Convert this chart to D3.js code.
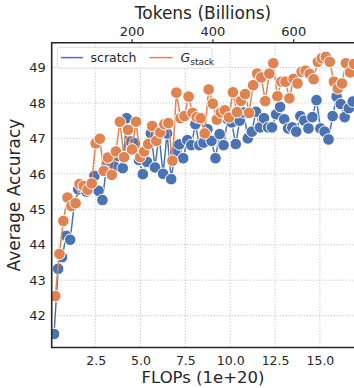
<!DOCTYPE html>
<html>
<head>
<meta charset="utf-8">
<script src="https://cdn.jsdelivr.net/npm/d3@7"></script>
<style>
  html, body { margin: 0; padding: 0; background: #fff; }
  svg { display: block; font-family: "DejaVu Sans", sans-serif; }
</style>
</head>
<body>
<div id="chart"></div>
<script>
// FLOPs (1e20) for every checkpoint
const flopsScratch = [0.18, 0.41, 0.63, 0.86, 1.08, 1.31, 1.53, 1.76, 1.98, 2.21, 2.43, 2.66, 2.88, 3.11, 3.33,
  3.56, 3.78, 4.01, 4.23, 4.46, 4.68, 4.91, 5.13, 5.36, 5.58, 5.81, 6.03, 6.26, 6.48, 6.71, 6.93, 7.16, 7.38,
  7.61, 7.83, 8.06, 8.28, 8.51, 8.73, 8.96, 9.18, 9.41, 9.63, 9.86, 10.08, 10.31, 10.53, 10.76, 10.98, 11.21,
  11.43, 11.66, 11.88, 12.11, 12.33, 12.56, 12.78, 13.01, 13.23, 13.46, 13.68, 13.91, 14.13, 14.36, 14.58,
  14.81, 15.03, 15.26, 15.48, 15.71, 15.93, 16.16, 16.38, 16.61, 16.83];
const flopsStack = [0.25, 0.48, 0.70, 0.93, 1.15, 1.38, 1.60, 1.83, 2.05, 2.28, 2.50, 2.73, 2.95, 3.18, 3.40,
  3.63, 3.85, 4.08, 4.30, 4.53, 4.75, 4.98, 5.20, 5.43, 5.65, 5.88, 6.10, 6.33, 6.55, 6.78, 7.00, 7.23, 7.45,
  7.68, 7.90, 8.13, 8.35, 8.58, 8.80, 9.03, 9.25, 9.48, 9.70, 9.93, 10.15, 10.38, 10.60, 10.83, 11.05, 11.28,
  11.50, 11.73, 11.95, 12.18, 12.40, 12.63, 12.85, 13.08, 13.30, 13.53, 13.75, 13.98, 14.20, 14.43, 14.65,
  14.88, 15.10, 15.33, 15.55, 15.78, 16.00, 16.23, 16.45, 16.68, 16.90];

// average accuracy
const accScratch = [41.48, 43.32, 43.65, 44.25, 44.14, 45.15, 45.56, 45.62, 45.50, 45.70, 45.94, 45.52, 45.26,
  46.25, 46.35, 46.20, 46.50, 46.16, 47.57, 46.91, 46.86, 46.39, 45.99, 46.34, 47.14, 46.18, 47.10, 46.00,
  47.14, 45.85, 46.61, 46.83, 46.44, 46.95, 46.81, 47.40, 46.81, 46.88, 47.26, 46.93, 46.44, 47.12, 46.81,
  47.54, 47.45, 46.84, 47.50, 47.73, 47.00, 47.19, 47.75, 47.31, 47.57, 47.31, 47.31, 47.68, 47.89, 47.54,
  47.28, 47.31, 47.19, 47.63, 47.50, 47.28, 47.60, 48.08, 47.28, 47.19, 46.97, 47.63, 48.18, 47.97, 47.60,
  47.85, 48.04];
const accStack = [42.55, 43.74, 44.67, 45.33, 45.09, 45.17, 45.71, 45.66, 45.55, 45.73, 46.86, 46.99, 46.08,
  46.46, 45.97, 46.63, 47.47, 46.47, 47.24, 46.69, 47.47, 46.47, 46.63, 46.84, 47.35, 46.93, 47.17, 47.40,
  47.43, 46.37, 48.29, 47.57, 47.63, 48.18, 47.72, 47.60, 47.57, 47.14, 48.38, 47.98, 47.53, 47.73, 47.79,
  47.59, 48.30, 47.74, 48.06, 48.25, 47.72, 48.50, 48.83, 48.72, 48.05, 48.83, 49.12, 48.19, 48.60, 48.60,
  48.13, 48.68, 48.55, 48.88, 48.91, 48.82, 48.67, 49.16, 49.26, 49.30, 49.16, 48.60, 48.41, 48.55, 49.12,
  48.86, 49.10];

const xTicks = [2.5, 5.0, 7.5, 10.0, 12.5, 15.0];
const yTicks = [42, 43, 44, 45, 46, 47, 48, 49];
const tokenTicks = [200, 400, 600];
const tokensPerFlop = 44.4; // billions of tokens per 1e20 FLOPs

const width = 354, height = 388;
const mLeft = 51.7, mTop = 42.7, mBottom = 347.5, mRight = 354;

const blue = '#4C72B0', orange = '#DD8452';

const svg = d3.select('#chart').append('svg')
  .attr('width', width)
  .attr('height', height);

const x = d3.scaleLinear().domain([0.05, 16.9]).range([mLeft, mRight]);
const y = d3.scaleLinear().domain([41.10, 49.70]).range([mBottom, mTop]);
const xTok = d3.scaleLinear()
  .domain([0.05 * tokensPerFlop, 16.9 * tokensPerFlop])
  .range([mLeft, mRight]);

svg.append('defs').append('clipPath').attr('id', 'plot-clip')
  .append('rect')
  .attr('x', mLeft).attr('y', mTop)
  .attr('width', mRight - mLeft).attr('height', mBottom - mTop);

// grid
const grid = svg.append('g').attr('stroke', '#c4c4c4').attr('stroke-width', 1)
  .attr('stroke-dasharray', '1.2,1.8');
grid.selectAll('.gx').data(xTicks).enter().append('line')
  .attr('x1', d => x(d)).attr('x2', d => x(d))
  .attr('y1', mTop).attr('y2', mBottom);
grid.selectAll('.gy').data(yTicks).enter().append('line')
  .attr('x1', mLeft).attr('x2', mRight)
  .attr('y1', d => y(d)).attr('y2', d => y(d));

// series
const plot = svg.append('g').attr('clip-path', 'url(#plot-clip)');

function drawSeries(xs, ys, color) {
  const pts = xs.map((v, i) => [v, ys[i]]);
  plot.append('path')
    .datum(pts)
    .attr('fill', 'none')
    .attr('stroke', color)
    .attr('stroke-width', 1.5)
    .attr('d', d3.line().x(d => x(d[0])).y(d => y(d[1])));
  plot.append('g').selectAll('circle')
    .data(pts).enter().append('circle')
    .attr('cx', d => x(d[0]))
    .attr('cy', d => y(d[1]))
    .attr('r', 5.8)
    .attr('fill', color)
    .attr('stroke', '#fff')
    .attr('stroke-width', 1);
}
drawSeries(flopsScratch, accScratch, blue);
drawSeries(flopsStack, accStack, orange);

// spines
const spines = svg.append('g').attr('stroke', '#262626').attr('stroke-width', 1.6);
spines.append('line').attr('x1', mLeft).attr('x2', mLeft).attr('y1', mTop - 0.8).attr('y2', mBottom + 0.8);
spines.append('line').attr('x1', mLeft).attr('x2', mRight).attr('y1', mBottom).attr('y2', mBottom);
spines.append('line').attr('x1', mLeft).attr('x2', mRight).attr('y1', mTop).attr('y2', mTop);

// bottom axis
const xAxis = svg.append('g')
  .attr('transform', `translate(0,${mBottom})`)
  .call(d3.axisBottom(x).tickValues(xTicks).tickFormat(d3.format('.1f')).tickSize(0).tickPadding(9));
xAxis.select('.domain').remove();
xAxis.selectAll('text').attr('font-size', 12.5).attr('fill', '#262626')
  .attr('font-family', '"DejaVu Sans", sans-serif');

// left axis
const yAxis = svg.append('g')
  .attr('transform', `translate(${mLeft},0)`)
  .call(d3.axisLeft(y).tickValues(yTicks).tickSize(0).tickPadding(6));
yAxis.select('.domain').remove();
yAxis.selectAll('text').attr('font-size', 13).attr('fill', '#262626')
  .attr('font-family', '"DejaVu Sans", sans-serif');

// top axis (tokens)
const tAxis = svg.append('g')
  .attr('transform', `translate(0,${mTop})`)
  .call(d3.axisTop(xTok).tickValues(tokenTicks).tickSize(3.5).tickPadding(3));
tAxis.select('.domain').remove();
tAxis.selectAll('line').attr('stroke', '#262626').attr('stroke-width', 1.2);
tAxis.selectAll('text').attr('font-size', 13).attr('fill', '#262626')
  .attr('font-family', '"DejaVu Sans", sans-serif');

// axis titles
svg.append('text')
  .attr('x', 203).attr('y', 383)
  .attr('text-anchor', 'middle')
  .attr('font-size', 16.5).attr('fill', '#262626')
  .text('FLOPs (1e+20)');
svg.append('text')
  .attr('x', 203).attr('y', 19)
  .attr('text-anchor', 'middle')
  .attr('font-size', 17).attr('fill', '#262626')
  .text('Tokens (Billions)');
svg.append('text')
  .attr('transform', `translate(20,${(mTop + mBottom) / 2}) rotate(-90)`)
  .attr('text-anchor', 'middle')
  .attr('font-size', 17).attr('fill', '#262626')
  .text('Average Accuracy');

// legend
const lg = svg.append('g');
lg.append('rect')
  .attr('x', 57.3).attr('y', 47.3).attr('width', 154.7).attr('height', 21)
  .attr('rx', 2.5)
  .attr('fill', '#fff').attr('fill-opacity', 0.85)
  .attr('stroke', '#d6d6d6').attr('stroke-width', 0.8);
lg.append('line').attr('x1', 61).attr('x2', 83).attr('y1', 57.6).attr('y2', 57.6)
  .attr('stroke', blue).attr('stroke-width', 1.5);
lg.append('text').attr('x', 90.5).attr('y', 62)
  .attr('font-size', 12.5).attr('fill', '#262626').text('scratch');
lg.append('line').attr('x1', 149.5).attr('x2', 172.5).attr('y1', 57.6).attr('y2', 57.6)
  .attr('stroke', orange).attr('stroke-width', 1.5);
const gt = lg.append('text').attr('x', 180.5).attr('y', 62)
  .attr('font-size', 12.5).attr('fill', '#262626');
gt.append('tspan').attr('font-style', 'italic').text('G');
gt.append('tspan').attr('font-size', 9).attr('dy', 2.5).text('stack');
</script>
</body>
</html>
